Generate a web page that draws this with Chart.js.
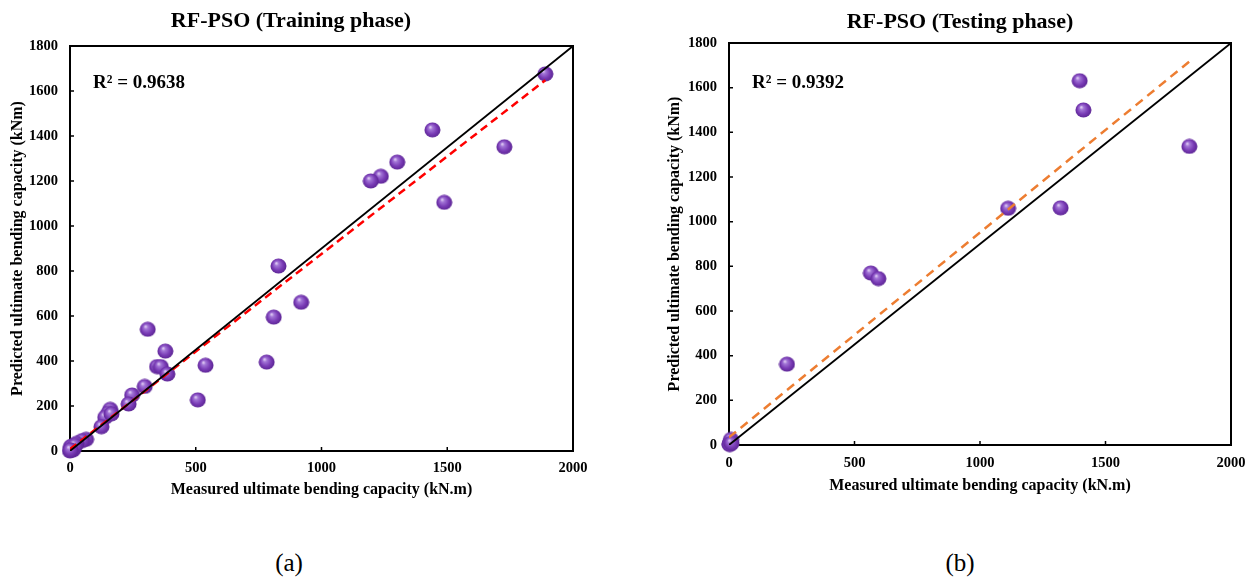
<!DOCTYPE html>
<html><head><meta charset="utf-8">
<script src="https://cdn.jsdelivr.net/npm/chart.js@4.4.1/dist/chart.umd.min.js"></script>
<style>
body{margin:0;background:#fff;width:1258px;height:580px;position:relative;overflow:hidden;font-family:"Liberation Serif","Times New Roman",serif;color:#000;}
.box{position:absolute;top:0;width:629px;height:510px;}
.t{position:absolute;font-weight:bold;white-space:nowrap;transform:translate(-50%,-50%);}
.r2{position:absolute;font-weight:bold;white-space:nowrap;font-size:19px;transform:translateY(-50%);}
.lab{position:absolute;white-space:nowrap;font-size:25px;transform:translate(-50%,-50%);}
</style></head><body>
<div class="box" style="left:0"><canvas id="c1" width="629" height="510"></canvas></div>
<div class="box" style="left:629px"><canvas id="c2" width="629" height="510"></canvas></div>
<div class="t" style="left:291px;top:20px;font-size:22px">RF-PSO (Training phase)</div>
<div class="t" style="left:960px;top:21px;font-size:22px">RF-PSO (Testing phase)</div>
<div class="r2" style="left:93px;top:82px">R² = 0.9638</div>
<div class="r2" style="left:752px;top:82px">R² = 0.9392</div>
<div class="lab" style="left:289px;top:563px">(a)</div>
<div class="lab" style="left:960px;top:563px">(b)</div>
<script>
// ---- data ----
const xTicks = [0, 500, 1000, 1500, 2000];
const yTicks = [0, 200, 400, 600, 800, 1000, 1200, 1400, 1600, 1800];

const trainMeasured = [1890, 1441, 1727, 1301, 1236, 1196, 1488, 829, 919, 810, 782, 539, 508, 309, 379, 346, 361, 387, 297, 247, 233, 160, 152, 140, 165, 125, 64, 48, 26, 3, 11, 0, 5, 8, 15, 20, 2];
const trainPredicted = [1676, 1427, 1352, 1284, 1221, 1200, 1105, 822, 661, 595, 395, 381, 227, 541, 444, 375, 375, 342, 287, 249, 209, 185, 168, 150, 165, 108, 52, 46, 34, 19, 4, 0, 10, 22, 12, 25, 5];

const testMeasured = [1397, 1412, 1834, 1112, 1321, 565, 595, 231, 2, 5, 8, 3, 10];
const testPredicted = [1631, 1500, 1337, 1060, 1062, 770, 745, 362, 5, 15, 25, 2, 8];

const refLineX = [0, 2000];
const refLineY = [0, 1800];
const trainFitX = [0, 1890];
const trainFitY = [8, 1648];
const testFitX = [0, 1834];
const testFitY = [34, 1717];

const xTitle = 'Measured ultimate bending capacity (kN.m)';
const yTitle = 'Predicted ultimate bending capacity (kNm)';

// ---- helpers ----
const pts = (xs, ys) => xs.map((x, i) => ({x: x, y: ys[i]}));
const FONT = '"Liberation Serif","Times New Roman",serif';

function sphere() {
  const c = document.createElement('canvas');
  c.width = 17; c.height = 16;
  const g = c.getContext('2d');
  const gr = g.createRadialGradient(6.3, 5.2, 0.5, 8.5, 8, 8.5);
  gr.addColorStop(0, '#dcc6f2');
  gr.addColorStop(0.2, '#a275d6');
  gr.addColorStop(0.6, '#7a3cb6');
  gr.addColorStop(1, '#56208e');
  g.fillStyle = gr;
  g.beginPath(); g.ellipse(8.5, 8, 8, 7.6, 0, 0, Math.PI * 2); g.fill();
  return c;
}
const ball = sphere();

const frame = {
  id: 'frame',
  beforeDatasetsDraw(chart) {
    const {ctx, chartArea: a, scales} = chart;
    ctx.save();
    ctx.strokeStyle = '#000';
    ctx.lineWidth = 1.5;
    ctx.beginPath();
    xTicks.forEach(v => {
      const px = scales.x.getPixelForValue(v);
      ctx.moveTo(px, a.bottom); ctx.lineTo(px, a.bottom - 4);
    });
    yTicks.forEach(v => {
      const py = scales.y.getPixelForValue(v);
      ctx.moveTo(a.left, py); ctx.lineTo(a.left + 4, py);
    });
    ctx.stroke();
    ctx.lineWidth = 2;
    ctx.strokeRect(a.left, a.top, a.right - a.left, a.bottom - a.top);
    ctx.restore();
  }
};

function build(id, o) {
  return new Chart(document.getElementById(id), {
    type: 'scatter',
    data: {
      datasets: [
        {data: pts(o.mx, o.my), pointStyle: ball, pointRadius: 8, pointHoverRadius: 8, showLine: false, clip: false, order: 3},
        {data: pts(o.fx, o.fy), showLine: true, borderColor: o.fitColor, borderWidth: 2.5, borderDash: o.dash, pointRadius: 0, fill: false, order: 2},
        {data: pts(refLineX, refLineY), showLine: true, borderColor: '#000', borderWidth: 1.8, pointRadius: 0, fill: false, order: 1}
      ]
    },
    options: {
      responsive: false, animation: false, events: [],
      layout: {padding: {left: 0, top: o.top, right: o.right, bottom: 0}},
      plugins: {legend: {display: false}, tooltip: {enabled: false}, title: {display: false}},
      scales: {
        x: {
          type: 'linear', min: 0, max: 2000,
          afterBuildTicks: s => { s.ticks = xTicks.map(v => ({value: v})); },
          afterFit: s => { s.height = o.xh; },
          grid: {display: false, drawTicks: false},
          border: {display: false},
          ticks: {padding: o.xpad, color: '#000', maxRotation: 0, callback: v => String(v), font: {family: FONT, size: 14.5, weight: 'bold'}},
          title: {display: true, text: xTitle, color: '#000', font: {family: FONT, size: 16, weight: 'bold'}, padding: {top: 0, bottom: o.xtpad}}
        },
        y: {
          type: 'linear', min: 0, max: 1800,
          afterBuildTicks: s => { s.ticks = yTicks.map(v => ({value: v})); },
          afterFit: s => { s.width = o.yw; },
          grid: {display: false, drawTicks: false},
          border: {display: false},
          ticks: {padding: 12, color: '#000', callback: v => String(v), font: {family: FONT, size: 14.5, weight: 'bold'}},
          title: {display: true, text: yTitle, color: '#000', font: {family: FONT, size: 16, weight: 'bold'}, padding: {top: o.ytpad, bottom: 0}}
        }
      }
    },
    plugins: [frame]
  });
}

build('c1', {mx: trainMeasured, my: trainPredicted, fx: trainFitX, fy: trainFitY, fitColor: '#ff0000', dash: [8, 5],
  top: 46, right: 56, xh: 59, yw: 70, xpad: 9, xtpad: 11, ytpad: 8});
build('c2', {mx: testMeasured, my: testPredicted, fx: testFitX, fy: testFitY, fitColor: '#ed7d31', dash: [9, 6],
  top: 43, right: 27, xh: 65, yw: 100, xpad: 10, xtpad: 15, ytpad: 36});
</script>
</body></html>
